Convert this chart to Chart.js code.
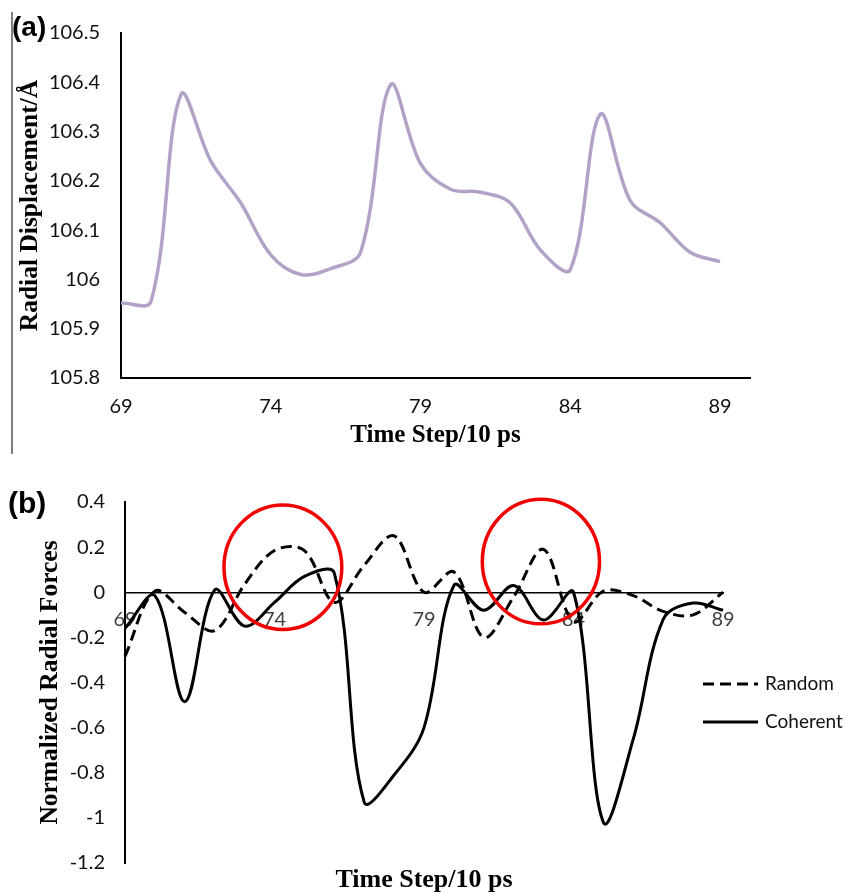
<!DOCTYPE html>
<html>
<head>
<meta charset="utf-8">
<script src="https://cdn.jsdelivr.net/npm/chart.js@4.4.1/dist/chart.umd.min.js"></script>
<style>
  html, body { margin: 0; padding: 0; background: #fff; overflow: hidden; }
  body { width: 846px; height: 892px; position: relative; }
  .panel { position: absolute; left: 0; width: 846px; }
  .panel canvas { display: block; }
  #panel-a { top: 0; height: 465px; }
  #panel-b { top: 470px; height: 430px; }
  #rule-a { position: absolute; left: 11px; top: 12px; width: 2px; height: 442px; background: #808080; }
  .tag { position: absolute; font-family: "Liberation Sans", Arial, sans-serif; font-weight: bold; line-height: 1; color: #000; }
</style>
</head>
<body>
<div id="panel-a" class="panel"><canvas id="chart-a" width="846" height="465"></canvas></div>
<div id="panel-b" class="panel"><canvas id="chart-b" width="846" height="430"></canvas></div>
<div id="rule-a"></div>
<div class="tag" style="left:12px; top:13px; font-size:28px;">(a)</div>
<div class="tag" style="left:8px; top:488px; font-size:30px;">(b)</div>
<script>
// time steps (x 10 ps) and the three series
const timeSteps = [69, 70, 71, 72, 73, 74, 75, 76, 77, 78, 79, 80, 81, 82, 83, 84, 85, 86, 87, 88, 89];
const displacement = [105.952, 105.955, 106.375, 106.24, 106.155, 106.05, 106.01, 106.022, 106.055, 106.395, 106.235,
  106.183, 106.177, 106.155, 106.06, 106.02, 106.335, 106.16, 106.115, 106.055, 106.036];
const randomForce = [-0.284, 0.005, -0.09, -0.17, 0.035, 0.185, 0.185, -0.045, 0.12, 0.25, 0.0,
  0.09, -0.2, -0.02, 0.19, -0.13, 0.005, -0.015, -0.085, -0.1, 0.0];
const coherentForce = [-0.16, -0.015, -0.485, 0.01, -0.15, -0.045, 0.07, 0.085, -0.93, -0.81, -0.6,
  0.03, -0.08, 0.03, -0.123, 0.0, -1.02, -0.65, -0.12, -0.048, -0.08];
const xTickValues = [69, 74, 79, 84, 89];

// red rings in panel (b), in data units
const highlightRings = [
  { x: 74.28, y: 0.111, rx: 1.97, ry: 0.276 },
  { x: 82.91, y: 0.136, rx: 1.96, ry: 0.276 },
];

const tickFont = { family: 'Lato', size: 20 };
const titleFont = (size) => ({ family: 'Liberation Serif', size, weight: 'bold' });
const fmt = (v) => String(Math.round(v * 10) / 10);
const pts = (ys) => timeSteps.map((t, i) => ({ x: t, y: ys[i] }));
const fixedTicks = (s) => { s.ticks = xTickValues.map((v) => ({ value: v })); };

// (a) radial displacement
new Chart(document.getElementById('chart-a'), {
  type: 'line',
  data: {
    datasets: [{
      label: 'Radial displacement',
      data: pts(displacement),
      borderColor: '#b3a2c7',
      borderWidth: 3.5,
      pointRadius: 0,
      tension: 0.35,
      clip: false,
    }],
  },
  options: {
    responsive: false,
    animation: false,
    layout: { padding: { top: 26, right: 96, bottom: 0, left: 0 } },
    plugins: { legend: { display: false }, tooltip: { enabled: false } },
    scales: {
      x: {
        type: 'linear', min: 69, max: 90,
        afterBuildTicks: fixedTicks,
        afterFit: (s) => { s.height = 87; },
        grid: { display: false, drawTicks: false },
        border: { color: '#000', width: 2 },
        ticks: { color: '#111', font: tickFont, padding: 17, maxRotation: 0 },
        title: { display: true, text: 'Time Step/10 ps', color: '#000', font: titleFont(25), padding: { top: 0, bottom: 14 } },
      },
      y: {
        min: 105.8, max: 106.5,
        afterFit: (s) => { s.width = 121; },
        grid: { display: false, drawTicks: false },
        border: { color: '#000', width: 2 },
        ticks: { stepSize: 0.1, color: '#111', font: tickFont, padding: 21, callback: fmt },
        title: { display: true, text: 'Radial Displacement/Å', color: '#000', font: titleFont(25.5), padding: { top: 15, bottom: 0 } },
      },
    },
  },
});

// rings drawn over the force curves
const ringPlugin = {
  id: 'rings',
  afterDatasetsDraw(chart) {
    const { ctx, scales: { x, y } } = chart;
    ctx.save();
    ctx.strokeStyle = '#f00000';
    ctx.lineWidth = 3.5;
    highlightRings.forEach((r) => {
      const cx = x.getPixelForValue(r.x);
      const cy = y.getPixelForValue(r.y);
      const rx = Math.abs(x.getPixelForValue(r.x + r.rx) - cx);
      const ry = Math.abs(y.getPixelForValue(r.y + r.ry) - cy);
      ctx.beginPath();
      ctx.ellipse(cx, cy, rx, ry, 0, 0, Math.PI * 2);
      ctx.stroke();
    });
    ctx.restore();
  },
};

// Excel-style legend sitting half over the plot's right edge
const sideLegend = {
  id: 'sideLegend',
  afterDraw(chart) {
    const { ctx, chartArea } = chart;
    const x0 = chartArea.right - 20;
    ctx.save();
    chart.data.datasets.forEach((ds, i) => {
      const yy = chartArea.top + 182 + i * 38;
      ctx.strokeStyle = ds.borderColor;
      ctx.lineWidth = ds.borderWidth;
      ctx.setLineDash(ds.borderDash || []);
      ctx.beginPath();
      ctx.moveTo(x0, yy);
      ctx.lineTo(x0 + 55, yy);
      ctx.stroke();
      ctx.setLineDash([]);
      ctx.fillStyle = '#111';
      ctx.font = '19px Lato';
      ctx.textBaseline = 'middle';
      ctx.fillText(ds.label, x0 + 62, yy);
    });
    ctx.restore();
  },
};

// (b) normalized radial forces
new Chart(document.getElementById('chart-b'), {
  type: 'line',
  data: {
    datasets: [
      {
        label: 'Random',
        data: pts(randomForce),
        borderColor: '#000',
        borderWidth: 3,
        borderDash: [11, 6],
        pointRadius: 0,
        tension: 0.35,
        clip: false,
      },
      {
        label: 'Coherent',
        data: pts(coherentForce),
        borderColor: '#000',
        borderWidth: 3,
        pointRadius: 0,
        tension: 0.35,
        clip: false,
      },
    ],
  },
  plugins: [ringPlugin, sideLegend],
  options: {
    responsive: false,
    animation: false,
    layout: { padding: { top: 27, right: 123, bottom: 0, left: 0 } },
    plugins: { legend: { display: false }, tooltip: { enabled: false } },
    scales: {
      x: {
        type: 'linear', min: 69, max: 89,
        position: { y: 0 },
        afterBuildTicks: fixedTicks,
        grid: { display: false, drawTicks: false },
        border: { color: '#000', width: 1.5 },
        ticks: { color: '#404040', font: tickFont, padding: 15, maxRotation: 0 },
      },
      x2: {
        type: 'linear', min: 69, max: 89, position: 'bottom',
        afterFit: (s) => { s.height = 37; },
        grid: { display: false, drawTicks: false },
        border: { display: false },
        ticks: { display: false },
        title: { display: true, text: 'Time Step/10 ps', color: '#000', font: titleFont(26), padding: { top: 0, bottom: 4 } },
      },
      y: {
        min: -1.2, max: 0.4,
        afterFit: (s) => { s.width = 125; },
        grid: { display: false, drawTicks: false },
        border: { color: '#000', width: 2 },
        ticks: { stepSize: 0.2, color: '#111', font: tickFont, padding: 20, callback: fmt },
        title: { display: true, text: 'Normalized Radial Forces', color: '#000', font: titleFont(25.5), padding: { top: 35, bottom: 0 } },
      },
    },
  },
});
</script>
</body>
</html>
